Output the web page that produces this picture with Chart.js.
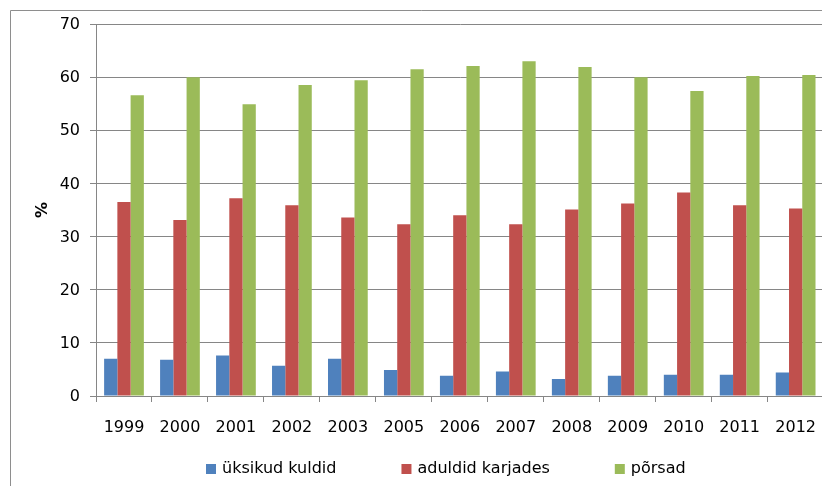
<!DOCTYPE html>
<html>
<head>
<meta charset="utf-8">
<script src="https://cdn.jsdelivr.net/npm/chart.js@4.4.1/dist/chart.umd.min.js"></script>
<style>
  html, body { margin: 0; padding: 0; background: #fff; overflow: hidden; }
  #wrap { width: 822px; height: 486px; overflow: hidden; position: relative; }
  canvas { display: block; }
</style>
</head>
<body>
<div id="wrap"><canvas id="c" width="832" height="486"></canvas></div>
<script>
// Years shown on the category axis
const years = ['1999', '2000', '2001', '2002', '2003', '2005', '2006', '2007', '2008', '2009', '2010', '2011', '2012'];

// Series values, %
const uksikudKuldid = [7.0, 6.8, 7.6, 5.7, 7.0, 4.9, 3.8, 4.6, 3.2, 3.8, 4.0, 4.0, 4.4];
const aduldidKarjades = [36.5, 33.1, 37.2, 35.9, 33.6, 32.3, 34.0, 32.3, 35.1, 36.2, 38.3, 35.9, 35.3];
const porsad = [56.6, 60.0, 54.9, 58.5, 59.4, 61.5, 62.1, 63.0, 61.9, 60.0, 57.4, 60.2, 60.4];

// Series names
const seriesNames = ['üksikud kuldid', 'aduldid karjades', 'põrsad'];

// Value axis ticks
const yMin = 0, yMax = 70, yStep = 10;

const FONT = 'DejaVu Sans';
const GRID = '#868686';

// Frame lines around the chart and a bottom legend drawn by hand
const framePlugin = {
  id: 'frame',
  afterDraw(chart) {
    const ctx = chart.ctx;
    ctx.save();
    ctx.strokeStyle = '#8e8e8e';
    ctx.lineWidth = 1;
    ctx.beginPath();
    ctx.moveTo(10.5, chart.height);
    ctx.lineTo(10.5, 10.5);
    ctx.lineTo(chart.width, 10.5);
    ctx.stroke();

    // legend
    ctx.font = '16px "' + FONT + '"';
    ctx.textBaseline = 'middle';
    ctx.textAlign = 'left';
    const box = 10, gapText = 6, gapItem = 65;
    const items = chart.data.datasets.map(d => ({ label: d.label, color: d.backgroundColor, w: ctx.measureText(d.label).width }));
    let total = 0;
    items.forEach((it, i) => { total += box + gapText + it.w + (i ? gapItem : 0); });
    const centerX = 446;
    let x = Math.round(centerX - total / 2);
    const y = 469;
    items.forEach(it => {
      ctx.fillStyle = it.color;
      ctx.fillRect(x, y - 5, box, box);
      ctx.fillStyle = '#000';
      ctx.fillText(it.label, x + box + gapText, y);
      x += box + gapText + it.w + gapItem;
    });
    ctx.restore();
  }
};

new Chart(document.getElementById('c'), {
  type: 'bar',
  data: {
    labels: years,
    datasets: [
      { label: seriesNames[0], data: uksikudKuldid, backgroundColor: '#4F81BD' },
      { label: seriesNames[1], data: aduldidKarjades, backgroundColor: '#C0504D' },
      { label: seriesNames[2], data: porsad, backgroundColor: '#9BBB59' }
    ]
  },
  options: {
    responsive: false,
    animation: false,
    devicePixelRatio: 1,
    datasets: { bar: { categoryPercentage: 0.71, barPercentage: 1.0, borderWidth: 0 } },
    layout: { padding: { top: 24, right: 0, bottom: 45, left: 0 } },
    plugins: { legend: { display: false }, tooltip: { enabled: false } },
    scales: {
      x: {
        grid: { offset: true, drawOnChartArea: false, drawTicks: true, tickLength: 6, color: GRID },
        border: { color: GRID },
        ticks: { color: '#000', font: { family: FONT, size: 16 }, padding: 16, maxRotation: 0, autoSkip: false },
        afterFit(scale) { scale.height = 45; }
      },
      y: {
        min: yMin, max: yMax,
        grid: { color: GRID, tickLength: 6, drawTicks: true },
        border: { color: GRID },
        ticks: { stepSize: yStep, color: '#000', font: { family: FONT, size: 16 }, padding: 10, labelOffset: 1 },
        title: { display: true, text: '%', color: '#000', font: { family: FONT, size: 16, weight: 'bold' }, padding: { top: 33, bottom: 0 } },
        afterFit(scale) { scale.width = 96; }
      }
    }
  },
  plugins: [framePlugin]
});
</script>
</body>
</html>
